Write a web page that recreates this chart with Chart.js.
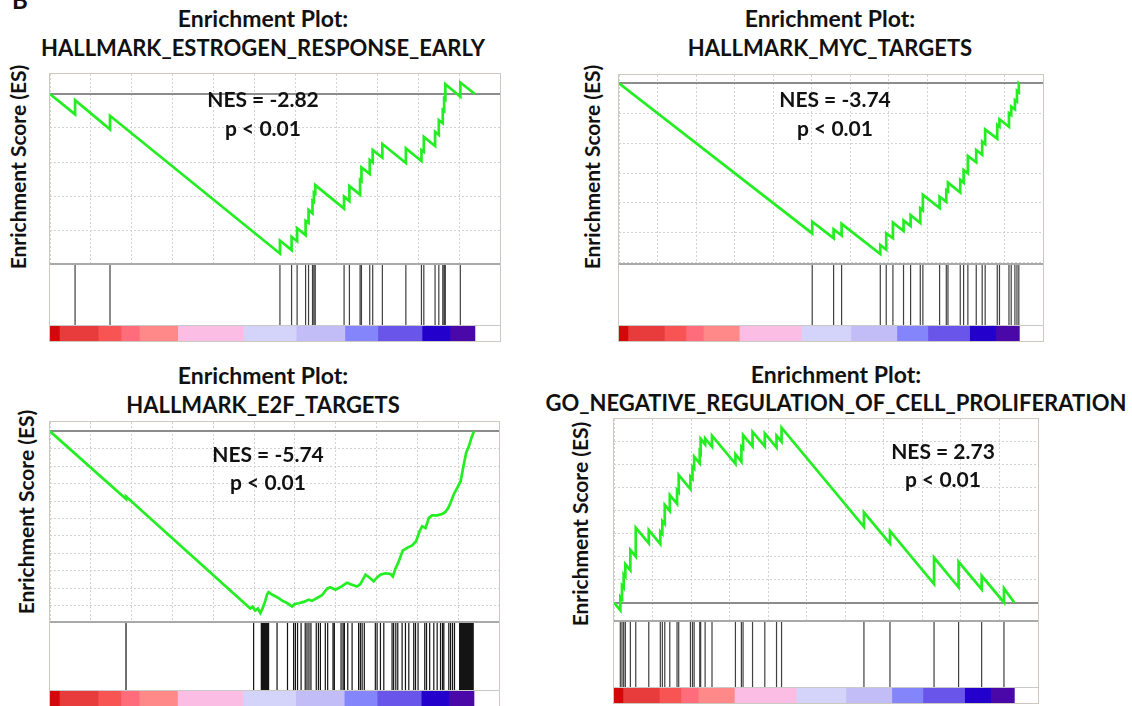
<!DOCTYPE html>
<html>
<head>
<meta charset="utf-8">
<script src="https://cdn.jsdelivr.net/npm/chart.js@4.4.1/dist/chart.umd.min.js"></script>
<style>
html,body{margin:0;padding:0;background:#fff;}
body{width:1132px;height:706px;position:relative;overflow:hidden;font-family:Lato,"Open Sans",sans-serif;font-weight:700;color:#111;}
.t{position:absolute;white-space:nowrap;transform:translate(-50%,-50%);line-height:1;}
.title{font-size:23px;}
.title2{font-size:22px;}
.nes{font-size:21px;}
.ylab{font-size:21px;transform:translate(-50%,-50%) rotate(-90deg);}
.frame{position:absolute;border:1px solid #cdc9bf;background:#fff;}
.frame canvas{display:block;}
.sep1{height:2px;background:#a9a9a9;}
.sep2{height:1px;background:#c9c9c9;}
.letter{position:absolute;left:12px;top:-12px;font-size:24px;line-height:24px;}
</style>
</head>
<body>
<div class="letter">B</div>
<script>
// ---------------- data ----------------
const XMAX = 22800;          // x-axis extent (gene rank)
const RANK_GRID = 2000;      // vertical grid step (ranks)

const plotTitles = [
  ["Enrichment Plot:", "HALLMARK_ESTROGEN_RESPONSE_EARLY"],
  ["Enrichment Plot:", "HALLMARK_MYC_TARGETS"],
  ["Enrichment Plot:", "HALLMARK_E2F_TARGETS"],
  ["Enrichment Plot:", "GO_NEGATIVE_REGULATION_OF_CELL_PROLIFERATION"]
];
const nesLabels = ["NES = -2.82", "NES = -3.74", "NES = -5.74", "NES = 2.73"];
const pLabels = ["p < 0.01", "p < 0.01", "p < 0.01", "p < 0.01"];
const yAxisLabel = "Enrichment Score (ES)";

// ranked-list colour bar boundaries (ranks), shared by all four plots
const rankedListBounds = [0, 480, 2440, 3600, 4530, 6470, 9800, 12470, 14940, 16610, 18850, 20260, 21530];

// HALLMARK_ESTROGEN_RESPONSE_EARLY
const estrogenRank = [0,1270,1270,3040,3040,11650,11650,12240,12240,12520,12520,12950,12950,13100,13100,13300,13300,13370,13370,13440,13440,14900,14900,15170,15170,15710,15710,15780,15780,16200,16200,16350,16350,16840,16840,18030,18030,18820,18820,18940,18940,19510,19510,19700,19700,19900,19900,19970,19970,20030,20030,20790,20790,21530];
const estrogenES = [0,-0.060,-0.018,-0.104,-0.064,-0.469,-0.431,-0.459,-0.420,-0.433,-0.395,-0.415,-0.373,-0.379,-0.341,-0.351,-0.314,-0.317,-0.290,-0.293,-0.268,-0.337,-0.302,-0.315,-0.271,-0.296,-0.253,-0.256,-0.216,-0.235,-0.194,-0.201,-0.165,-0.187,-0.147,-0.203,-0.160,-0.197,-0.165,-0.170,-0.126,-0.153,-0.111,-0.120,-0.077,-0.086,-0.047,-0.050,-0.013,-0.016,0.029,-0.008,0.034,0];
const estrogenHits = [1270,3040,11650,12240,12520,12950,13100,13300,13370,13440,14900,15170,15710,15780,16200,16350,16840,18030,18820,18940,19510,19700,19900,19970,20030,20790];

// HALLMARK_MYC_TARGETS
const mycRank = [0,10390,10390,11540,11540,11970,11970,14050,14050,14370,14370,14730,14730,15300,15300,15680,15680,16200,16200,16340,16340,17240,17240,17600,17600,17690,17690,18350,18350,18530,18530,18760,18760,19210,19210,19530,19530,19690,19690,20340,20340,20460,20460,20970,20970,21090,21090,21290,21290,21400,21400,21500,21500,21530];
const mycES = [0,-0.502,-0.463,-0.518,-0.488,-0.509,-0.470,-0.571,-0.541,-0.556,-0.502,-0.518,-0.466,-0.494,-0.459,-0.477,-0.441,-0.467,-0.418,-0.425,-0.373,-0.417,-0.379,-0.396,-0.357,-0.361,-0.332,-0.365,-0.323,-0.332,-0.290,-0.301,-0.243,-0.264,-0.223,-0.239,-0.195,-0.203,-0.154,-0.185,-0.139,-0.145,-0.120,-0.145,-0.100,-0.106,-0.078,-0.087,-0.056,-0.061,-0.025,-0.030,0.000,-0.002];
const mycHits = [10390,11540,11970,14050,14370,14730,15300,15680,16200,16340,17240,17600,17690,18350,18530,18760,19210,19530,19690,20340,20460,20970,21090,21290,21400,21500];

// HALLMARK_E2F_TARGETS
const e2fRank = [0,3860,3860,10170,10290,10420,10560,10680,10800,10930,11020,11100,11270,11440,11610,11810,12030,12290,12420,12630,12880,13130,13300,13560,13810,14070,14240,14490,14660,14830,15080,15340,15590,15760,16020,16220,16440,16610,16780,17030,17290,17410,17540,17710,17910,18130,18390,18590,18760,18900,19070,19240,19400,19660,19910,20080,20220,20340,20510,20680,20850,21010,21130,21270,21400,21530];
const e2fES = [0,-0.194,-0.187,-0.508,-0.503,-0.514,-0.508,-0.521,-0.507,-0.486,-0.468,-0.461,-0.468,-0.473,-0.478,-0.486,-0.492,-0.502,-0.495,-0.493,-0.489,-0.483,-0.486,-0.478,-0.470,-0.451,-0.447,-0.454,-0.449,-0.444,-0.434,-0.440,-0.445,-0.438,-0.411,-0.419,-0.430,-0.419,-0.411,-0.407,-0.409,-0.416,-0.394,-0.373,-0.342,-0.334,-0.327,-0.315,-0.287,-0.272,-0.277,-0.248,-0.241,-0.241,-0.237,-0.231,-0.220,-0.205,-0.180,-0.162,-0.143,-0.096,-0.062,-0.043,-0.019,0];
const e2fHits = [3860,10340,10730,10780,10810,10830,10880,10930,10950,10980,11020,11060,11100,11530,12060,12370,12460,12570,12750,12960,13050,13150,13250,13520,13630,13730,13980,14100,14370,14440,14780,14880,14950,15120,15340,15670,15760,15850,15960,16520,16610,16780,16950,17370,17450,17560,17660,17880,18050,18220,18470,18560,18690,19030,19120,19280,19490,19660,19830,19930,20000,20250,20340,20440,20540,20800,20850,20880,20900,20950,21000,21010,21050,21100,21150,21190,21200,21250,21290,21300,21350,21390,21400,21450,21490];

// GO_NEGATIVE_REGULATION_OF_CELL_PROLIFERATION
const negRank = [0,340,340,430,430,520,520,610,610,880,880,1170,1170,1870,1870,2490,2490,2600,2600,2730,2730,3000,3000,3390,3390,3480,3480,4110,4110,4220,4220,4310,4310,4610,4610,4660,4660,4900,4900,5270,5270,6530,6530,6850,6850,6940,6940,7450,7450,8110,8110,8740,8740,9010,9010,13440,13440,14840,14840,17210,17210,18530,18530,19770,19770,20970,20970,21530];
const negES = [0,-0.033,0.025,0.016,0.074,0.065,0.123,0.114,0.167,0.141,0.229,0.201,0.326,0.258,0.316,0.255,0.309,0.299,0.355,0.343,0.425,0.399,0.468,0.430,0.490,0.481,0.555,0.494,0.548,0.538,0.591,0.583,0.635,0.606,0.657,0.651,0.712,0.688,0.714,0.678,0.726,0.604,0.645,0.613,0.678,0.670,0.729,0.680,0.743,0.680,0.736,0.675,0.726,0.700,0.761,0.330,0.393,0.257,0.312,0.081,0.196,0.067,0.178,0.058,0.117,0.001,0.062,0];
const negHits = [340,430,520,610,880,1170,1870,2490,2600,2730,3000,3390,3480,4110,4220,4310,4610,4660,4900,5270,6530,6850,6940,7450,8110,8740,9010,13440,14840,17210,18530,19770,20970];

// ---------------- styles / layout ----------------
const barColors = ['#d40808','#e83c3c','#f85454','#ff6c7c','#ff8888','#fcbde4','#d4d4fb','#c2bdf7','#8484fb','#6955e9','#2300cc','#4b08a8'];
const ES_COLOR = '#22ee22';

const panels = [
  {rank:estrogenRank, es:estrogenES, hits:estrogenHits, hitColor:'#404040',
   box:{left:50, top:74, width:450, es:189, hits:60, cb:15}, y:{min:-0.497, max:0.0588, step:0.1},
   txt:{tx:263, ty1:18, ty2:48, lx:17, ly:167, nx:263, ny1:98, ny2:127}},
  {rank:mycRank, es:mycES, hits:mycHits, hitColor:'#404040',
   box:{left:619, top:75, width:424, es:188, hits:60, cb:15}, y:{min:-0.601, max:0.0279, step:0.1},
   txt:{tx:830, ty1:18, ty2:48, lx:591, ly:167, nx:835, ny1:98, ny2:127}},
  {rank:e2fRank, es:e2fES, hits:e2fHits, hitColor:'#141414',
   box:{left:50, top:422, width:449, es:199, hits:67, cb:16}, y:{min:-0.5438, max:0.0268, step:0.05},
   txt:{tx:263, ty1:375, ty2:405, lx:25, ly:512, nx:268, ny1:453, ny2:481}},
  {rank:negRank, es:negES, hits:negHits, hitColor:'#404040',
   box:{left:614, top:419, width:424, es:201, hits:65, cb:15}, y:{min:-0.0752, max:0.7987, step:0.1},
   txt:{tx:836, ty1:374, ty2:403, lx:579, ly:524, nx:943, ny1:450, ny2:478}}
];

const base = {
  responsive:false, maintainAspectRatio:false, animation:false, devicePixelRatio:1, events:[],
  layout:{padding:0},
  plugins:{legend:{display:false}, tooltip:{enabled:false}, title:{display:false}}
};
const isZero = c => c.tick && Math.abs(c.tick.value) < 1e-9;

function addText(cls, text, x, y) {
  const d = document.createElement('div');
  d.className = 't ' + cls;
  d.textContent = text;
  d.style.left = x + 'px';
  d.style.top = y + 'px';
  document.body.appendChild(d);
}
function mkCanvas(parent, w, h) {
  const c = document.createElement('canvas');
  c.width = w; c.height = h;
  c.style.width = w + 'px'; c.style.height = h + 'px';
  parent.appendChild(c);
  return c;
}
function mkDiv(parent, cls) {
  const d = document.createElement('div');
  d.className = cls;
  parent.appendChild(d);
  return d;
}

panels.forEach((p, i) => {
  const b = p.box;
  const frame = document.createElement('div');
  frame.className = 'frame';
  frame.style.left = (b.left - 1) + 'px';
  frame.style.top = (b.top - 1) + 'px';
  frame.style.width = b.width + 'px';
  document.body.appendChild(frame);

  // running enrichment score
  const cES = mkCanvas(frame, b.width, b.es);
  new Chart(cES, {
    type:'line',
    data:{datasets:[{data:p.rank.map((r, k) => ({x:r, y:p.es[k]})),
      borderColor:ES_COLOR, borderWidth:2.7, pointRadius:0, tension:0, fill:false,
      borderJoinStyle:'miter'}]},
    options:Object.assign({}, base, {
      scales:{
        x:{type:'linear', min:0, max:XMAX,
           ticks:{display:false, stepSize:RANK_GRID, includeBounds:false},
           grid:{drawTicks:false, color:'#d2d2d2', lineWidth:1},
           border:{display:false, dash:[2,2]}},
        y:{type:'linear', min:p.y.min, max:p.y.max,
           ticks:{display:false, stepSize:p.y.step, includeBounds:false},
           grid:{drawTicks:false, color:c => isZero(c) ? '#8c8c8c' : '#d2d2d2', lineWidth:c => isZero(c) ? 2 : 1},
           border:{display:false, dash:c => isZero(c) ? [] : [2,2]}}
      }
    })
  });
  mkDiv(frame, 'sep1');

  // hit positions
  const cH = mkCanvas(frame, b.width, b.hits);
  const hitPts = [];
  p.hits.forEach(r => { hitPts.push({x:r, y:0}, {x:r, y:1}, {x:r, y:null}); });
  new Chart(cH, {
    type:'line',
    data:{datasets:[{data:hitPts, borderColor:p.hitColor, borderWidth:1.2, pointRadius:0, spanGaps:false, fill:false}]},
    options:Object.assign({}, base, {
      scales:{x:{type:'linear', display:false, min:0, max:XMAX}, y:{type:'linear', display:false, min:0, max:1}}
    })
  });
  mkDiv(frame, 'sep2');

  // ranked list colour bar
  const cC = mkCanvas(frame, b.width, b.cb);
  new Chart(cC, {
    type:'bar',
    data:{labels:['ranked list'],
      datasets:barColors.map((col, k) => ({data:[rankedListBounds[k + 1] - rankedListBounds[k]],
        backgroundColor:col, borderWidth:0, barPercentage:1, categoryPercentage:1}))},
    options:Object.assign({}, base, {
      indexAxis:'y',
      scales:{x:{type:'linear', stacked:true, display:false, min:0, max:XMAX},
              y:{stacked:true, display:false}}
    })
  });

  const t = p.txt;
  addText('title', plotTitles[i][0], t.tx, t.ty1);
  addText('title2', plotTitles[i][1], t.tx, t.ty2);
  addText('ylab', yAxisLabel, t.lx, t.ly);
  addText('nes', nesLabels[i], t.nx, t.ny1);
  addText('nes', pLabels[i], t.nx, t.ny2);
});
</script>
</body>
</html>
